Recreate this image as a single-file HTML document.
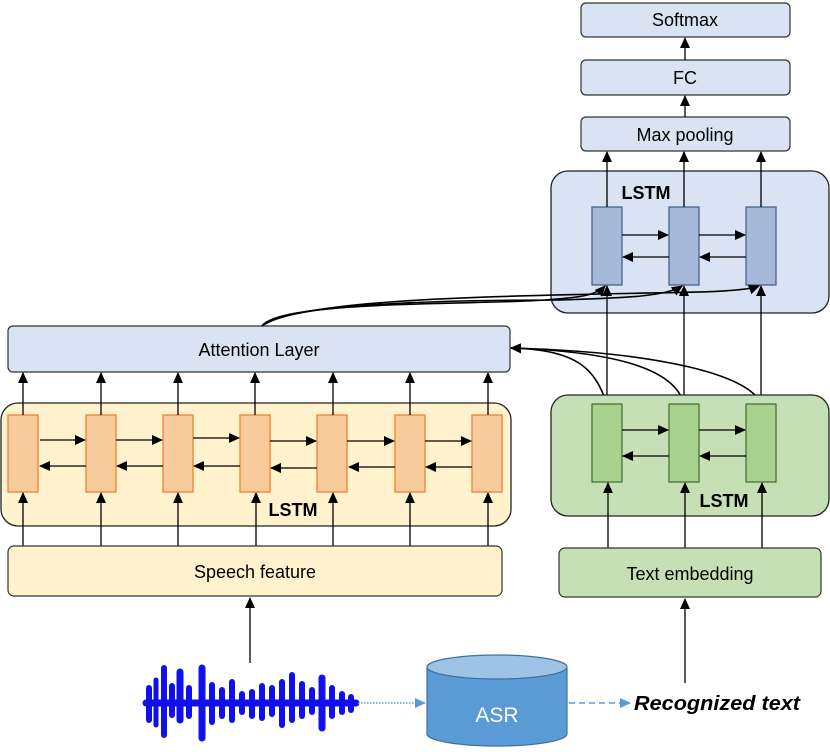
<!DOCTYPE html>
<html><head><style>body{margin:0;background:#fff}svg{display:block}text{font-family:"Liberation Sans",sans-serif}</style></head>
<body>
<svg width="830" height="752" viewBox="0 0 830 752" xmlns="http://www.w3.org/2000/svg">
<defs>
<marker id="a" markerWidth="11" markerHeight="10" refX="10" refY="5" orient="auto" markerUnits="userSpaceOnUse"><path d="M0,0 L11,5 L0,10 z" fill="#000"/></marker>
<marker id="b" markerWidth="11" markerHeight="10" refX="10" refY="5" orient="auto" markerUnits="userSpaceOnUse"><path d="M0,0 L11,5 L0,10 z" fill="#5b9bd5"/></marker>
</defs>
<g fill="#dae3f3" stroke="#333" stroke-width="1.2">
<rect x="581" y="3" width="209" height="34" rx="5"/>
<rect x="581" y="60" width="209" height="35" rx="5"/>
<rect x="581" y="117" width="209" height="34" rx="5"/>
</g>
<g font-size="18" text-anchor="middle" fill="#000">
<text x="685" y="26">Softmax</text><text x="685" y="84">FC</text><text x="685" y="141">Max pooling</text>
</g>
<g stroke="#000" stroke-width="1.3" marker-end="url(#a)">
<line x1="685" y1="60" x2="685" y2="38"/><line x1="685" y1="117" x2="685" y2="96"/>
</g>
<rect x="551" y="171" width="278" height="142" rx="17" fill="#dae3f3" stroke="#222" stroke-width="1.3"/>
<text x="646" y="199" font-size="18" font-weight="bold" text-anchor="middle">LSTM</text>
<g fill="#a6b9d8" stroke="#3d5a8a" stroke-width="1.2">
<rect x="592" y="207" width="30" height="78"/><rect x="669" y="207" width="30" height="78"/><rect x="746" y="207" width="30" height="78"/>
</g>
<g stroke="#000" stroke-width="1.3" marker-end="url(#a)">
<line x1="607" y1="207" x2="607" y2="152"/><line x1="684" y1="207" x2="684" y2="152"/><line x1="761" y1="207" x2="761" y2="152"/>
<line x1="622" y1="235" x2="668" y2="235"/><line x1="699" y1="235" x2="745" y2="235"/>
<line x1="669" y1="257" x2="623" y2="257"/><line x1="746" y1="257" x2="700" y2="257"/>
<line x1="607" y1="404" x2="607" y2="286"/><line x1="684" y1="404" x2="684" y2="286"/><line x1="761" y1="404" x2="761" y2="286"/>
</g>
<rect x="8" y="326" width="502" height="46" rx="5" fill="#dae3f3" stroke="#333" stroke-width="1.2"/>
<text x="259" y="356" font-size="18" text-anchor="middle">Attention Layer</text>
<g fill="none" stroke="#000" stroke-width="1.6" marker-end="url(#a)">
<path d="M262,326 C280,300 480,305 545,300 C570,298 595,297 605,286"/>
<path d="M262,326 C290,300 500,300 560,300 C620,298 665,297 682,286"/>
<path d="M262,326 C300,298 520,296 600,294 C680,292 740,293 759,286"/>
<path d="M607,404 C595,370 580,350 511,348"/>
<path d="M684,404 C675,370 620,352 511,348"/>
<path d="M761,404 C750,375 660,352 511,348"/>
</g>
<rect x="1" y="403" width="510" height="123" rx="17" fill="#fff2cc" stroke="#222" stroke-width="1.3"/>
<text x="293" y="516" font-size="18" font-weight="bold" text-anchor="middle">LSTM</text>
<g fill="#f8cb9c" stroke="#f08030" stroke-width="1.3">
<rect x="8" y="415" width="30" height="77"/><rect x="86" y="415" width="30" height="77"/><rect x="163" y="415" width="30" height="77"/><rect x="240" y="415" width="30" height="77"/><rect x="317" y="415" width="30" height="77"/><rect x="395" y="415" width="30" height="77"/><rect x="472" y="415" width="30" height="77"/>
</g>
<g stroke="#000" stroke-width="1.3" marker-end="url(#a)">
<line x1="23" y1="415" x2="23" y2="373"/><line x1="101" y1="415" x2="101" y2="373"/><line x1="178" y1="415" x2="178" y2="373"/><line x1="255" y1="415" x2="255" y2="373"/><line x1="333" y1="415" x2="333" y2="373"/><line x1="410" y1="415" x2="410" y2="373"/><line x1="488" y1="415" x2="488" y2="373"/>
<line x1="40" y1="440" x2="85" y2="440"/><line x1="116" y1="440" x2="162" y2="440"/><line x1="193" y1="438" x2="239" y2="438"/><line x1="270" y1="441" x2="316" y2="441"/><line x1="347" y1="441" x2="394" y2="441"/><line x1="425" y1="441" x2="471" y2="441"/>
<line x1="86" y1="466" x2="40" y2="466"/><line x1="163" y1="466" x2="117" y2="466"/><line x1="240" y1="466" x2="194" y2="466"/><line x1="317" y1="468" x2="271" y2="468"/><line x1="395" y1="467" x2="349" y2="467"/><line x1="472" y1="467" x2="426" y2="467"/>
<line x1="23" y1="546" x2="23" y2="493"/><line x1="101" y1="546" x2="101" y2="493"/><line x1="178" y1="546" x2="178" y2="493"/><line x1="256" y1="546" x2="256" y2="493"/><line x1="333" y1="546" x2="333" y2="493"/><line x1="410" y1="546" x2="410" y2="493"/><line x1="488" y1="546" x2="488" y2="493"/>
</g>
<rect x="8" y="546" width="494" height="50" rx="6" fill="#fff2cc" stroke="#333" stroke-width="1.2"/>
<text x="255" y="578" font-size="18" text-anchor="middle">Speech feature</text>
<rect x="551" y="395" width="278" height="121" rx="17" fill="#c5e0b4" stroke="#222" stroke-width="1.3"/>
<text x="724" y="507" font-size="18" font-weight="bold" text-anchor="middle">LSTM</text>
<g fill="#a9d18e" stroke="#3f6b2f" stroke-width="1.2">
<rect x="592" y="404" width="30" height="78"/><rect x="669" y="404" width="30" height="78"/><rect x="746" y="404" width="30" height="78"/>
</g>
<g stroke="#000" stroke-width="1.3" marker-end="url(#a)">
<line x1="622" y1="430" x2="668" y2="430"/><line x1="699" y1="430" x2="745" y2="430"/>
<line x1="669" y1="456" x2="623" y2="456"/><line x1="746" y1="456" x2="700" y2="456"/>
<line x1="608" y1="548" x2="608" y2="483"/><line x1="685" y1="548" x2="685" y2="483"/><line x1="762" y1="548" x2="762" y2="483"/>
<line x1="250" y1="663" x2="250" y2="598"/><line x1="685" y1="683" x2="685" y2="599"/>
</g>
<rect x="559" y="548" width="262" height="49" rx="6" fill="#c5e0b4" stroke="#333" stroke-width="1.2"/>
<text x="690" y="580" font-size="18" text-anchor="middle">Text embedding</text>
<g stroke="#1010ee" stroke-linecap="round">
<line x1="149" y1="688" x2="149" y2="720" stroke-width="6"/>
<line x1="156" y1="680" x2="156" y2="725" stroke-width="5"/>
<line x1="164" y1="668" x2="164" y2="735" stroke-width="6"/>
<line x1="172" y1="686" x2="172" y2="715" stroke-width="6"/>
<line x1="180" y1="672" x2="180" y2="720" stroke-width="7"/>
<line x1="189" y1="688" x2="189" y2="716" stroke-width="6"/>
<line x1="202" y1="668" x2="202" y2="738" stroke-width="7"/>
<line x1="212" y1="685" x2="212" y2="722" stroke-width="6"/>
<line x1="222" y1="690" x2="222" y2="716" stroke-width="6"/>
<line x1="232" y1="682" x2="232" y2="720" stroke-width="6"/>
<line x1="242" y1="694" x2="242" y2="712" stroke-width="6"/>
<line x1="252" y1="692" x2="252" y2="716" stroke-width="6"/>
<line x1="262" y1="686" x2="262" y2="718" stroke-width="6"/>
<line x1="272" y1="688" x2="272" y2="714" stroke-width="6"/>
<line x1="282" y1="682" x2="282" y2="725" stroke-width="6"/>
<line x1="292" y1="675" x2="292" y2="720" stroke-width="6"/>
<line x1="302" y1="684" x2="302" y2="716" stroke-width="6"/>
<line x1="312" y1="690" x2="312" y2="712" stroke-width="6"/>
<line x1="322" y1="678" x2="322" y2="728" stroke-width="7"/>
<line x1="332" y1="688" x2="332" y2="716" stroke-width="6"/>
<line x1="342" y1="694" x2="342" y2="712" stroke-width="6"/>
<line x1="351" y1="697" x2="351" y2="710" stroke-width="6"/>
<line x1="146" y1="703" x2="356" y2="703" stroke-width="7"/>
</g>
<line x1="358" y1="703" x2="425" y2="703" stroke="#5b9bd5" stroke-width="1.5" stroke-dasharray="1.5,1.5" marker-end="url(#b)"/>
<path d="M427,668 L427,734 A70,12 0 0 0 567,734 L567,668" fill="#5b9bd5" stroke="#41719c" stroke-width="1.2"/>
<ellipse cx="497" cy="667" rx="70" ry="12" fill="#9dc3e6" stroke="#41719c" stroke-width="1.2"/>
<text x="497" y="722" font-size="21" fill="#fff" text-anchor="middle">ASR</text>
<line x1="569" y1="703" x2="630" y2="703" stroke="#5b9bd5" stroke-width="1.5" stroke-dasharray="6,4" marker-end="url(#b)"/>
<text x="634" y="710" font-size="20" font-weight="bold" font-style="italic" textLength="166" lengthAdjust="spacingAndGlyphs">Recognized text</text>
</svg>
</body></html>
